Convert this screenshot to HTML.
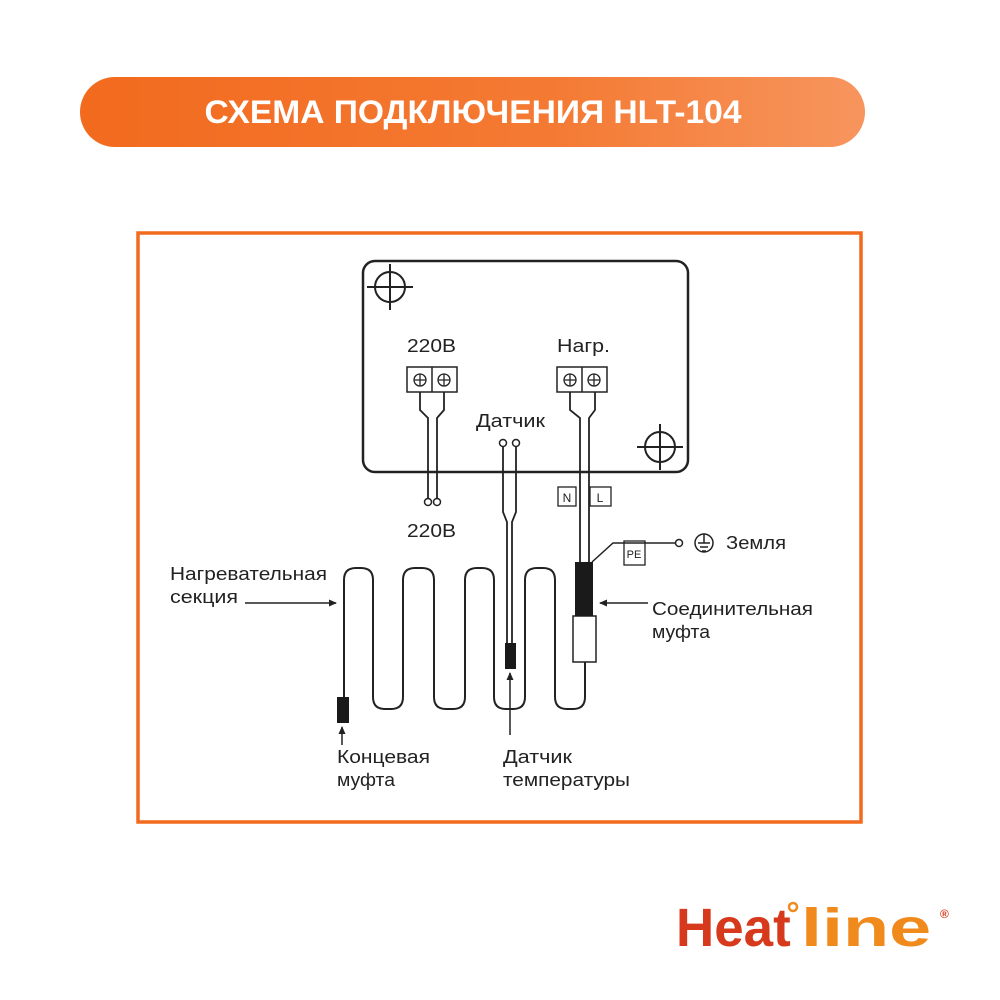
<!DOCTYPE html>
<html><head><meta charset="utf-8"><style>
html,body{margin:0;padding:0;background:#fff;width:1000px;height:1000px;overflow:hidden;}
svg{display:block;}
text{font-family:"Liberation Sans","DejaVu Sans",sans-serif;}
</style></head><body>
<svg width="1000" height="1000" viewBox="0 0 1000 1000" xmlns="http://www.w3.org/2000/svg">
<defs>
<linearGradient id="g" x1="0" x2="1" y1="0" y2="0">
<stop offset="0" stop-color="#f26a1e"/><stop offset="0.6" stop-color="#f47a33"/><stop offset="1" stop-color="#f7955e"/>
</linearGradient>
<marker id="ah" markerWidth="8" markerHeight="8" refX="7" refY="4" orient="auto" markerUnits="userSpaceOnUse">
<path d="M0,0.5 L8,4 L0,7.5 z" fill="#222"/></marker>
</defs>
<rect width="1000" height="1000" fill="#fff"/>
<rect x="80" y="77" width="785" height="70" rx="35" fill="url(#g)"/>
<text x="473" y="123" text-anchor="middle" font-size="32" font-weight="bold" fill="#fff" textLength="537" lengthAdjust="spacingAndGlyphs">СХЕМА ПОДКЛЮЧЕНИЯ HLT-104</text>
<rect x="138" y="233" width="723" height="589" fill="#fff" stroke="#f26a1e" stroke-width="3.5"/>
<g fill="none" stroke="#222" stroke-width="2">
<rect x="363" y="261" width="325" height="211" rx="12" stroke-width="2.5"/>
<circle cx="390" cy="287" r="15"/><path d="M367,287H413M390,264V310"/>
<circle cx="660" cy="447" r="15"/><path d="M637,447H683M660,424V470"/>
<rect x="407" y="367" width="50" height="25" stroke-width="1.5"/><path d="M432,367V392" stroke-width="1.5"/>
<rect x="557" y="367" width="50" height="25" stroke-width="1.5"/><path d="M582,367V392" stroke-width="1.5"/>
<g stroke-width="1.3">
<circle cx="420" cy="380" r="6"/><path d="M414,380H426M420,374V386"/>
<circle cx="444" cy="380" r="6"/><path d="M438,380H450M444,374V386"/>
<circle cx="570" cy="380" r="6"/><path d="M564,380H576M570,374V386"/>
<circle cx="594" cy="380" r="6"/><path d="M588,380H600M594,374V386"/>
</g>
<path d="M420,392V410L428,418V498M444,392V410L437,418V498" stroke-width="1.8"/>
<circle cx="428" cy="502" r="3.5" stroke-width="1.5"/><circle cx="437" cy="502" r="3.5" stroke-width="1.5"/>
<path d="M570,392V410L580,418V562M595,392V410L589,418V562" stroke-width="1.8"/>
<circle cx="503" cy="443" r="3.5" stroke-width="1.5"/><circle cx="516" cy="443" r="3.5" stroke-width="1.5"/>
<path d="M503,447V512L507,522V643M516,447V512L512,522V643" stroke-width="1.8"/>
<rect x="558" y="487" width="18" height="19" stroke-width="1.3"/>
<rect x="590" y="487" width="21" height="19" stroke-width="1.3"/>
<rect x="624" y="541" width="21" height="24" stroke-width="1.3"/>
<path d="M592,562L613,543H675" stroke-width="1.5"/>
<circle cx="679" cy="543" r="3.5" stroke-width="1.5"/>
<circle cx="704" cy="543" r="9" stroke-width="1.5"/>
<path d="M704,534V543M698,543H710M700,547H708M702,551H706" stroke-width="1.5"/>
<path d="M344,697V580Q344,568 356,568H361Q373,568 373,580V697Q373,709 385,709H391Q403,709 403,697V580Q403,568 415,568H422Q434,568 434,580V697Q434,709 446,709H453Q465,709 465,697V580Q465,568 477,568H482Q494,568 494,580V697Q494,709 506,709H513Q525,709 525,697V580Q525,568 537,568H543Q555,568 555,580V697Q555,709 567,709H573Q585,709 585,697V662" stroke-width="2"/>
<rect x="573" y="616" width="23" height="46" fill="#fff" stroke-width="1.5"/>
</g>
<rect x="575" y="562" width="18" height="54" fill="#1a1a1a"/>
<rect x="337" y="697" width="12" height="26" fill="#1a1a1a"/>
<rect x="505" y="643" width="11" height="26" fill="#1a1a1a"/>
<g stroke="#222" stroke-width="1.5" fill="none">
<path d="M245,603H336" marker-end="url(#ah)"/>
<path d="M648,603H600" marker-end="url(#ah)"/>
<path d="M342,745V727" marker-end="url(#ah)"/>
<path d="M510,735V673" marker-end="url(#ah)"/>
</g>
<g font-size="18" fill="#222">
<text x="407" y="352" textLength="49" lengthAdjust="spacingAndGlyphs">220В</text>
<text x="557" y="352" textLength="53" lengthAdjust="spacingAndGlyphs">Нагр.</text>
<text x="476" y="427" textLength="69" lengthAdjust="spacingAndGlyphs">Датчик</text>
<text x="407" y="537" textLength="49" lengthAdjust="spacingAndGlyphs">220В</text>
<text x="567" y="502" text-anchor="middle" font-size="12">N</text>
<text x="600" y="502" text-anchor="middle" font-size="12">L</text>
<text x="634" y="558" text-anchor="middle" font-size="11">PE</text>
<text x="726" y="549" textLength="60" lengthAdjust="spacingAndGlyphs">Земля</text>
<text x="170" y="580" textLength="157" lengthAdjust="spacingAndGlyphs">Нагревательная</text>
<text x="170" y="603" textLength="68" lengthAdjust="spacingAndGlyphs">секция</text>
<text x="652" y="615" textLength="161" lengthAdjust="spacingAndGlyphs">Соединительная</text>
<text x="652" y="638" textLength="58" lengthAdjust="spacingAndGlyphs">муфта</text>
<text x="337" y="763" textLength="93" lengthAdjust="spacingAndGlyphs">Концевая</text>
<text x="337" y="786" textLength="58" lengthAdjust="spacingAndGlyphs">муфта</text>
<text x="503" y="763" textLength="69" lengthAdjust="spacingAndGlyphs">Датчик</text>
<text x="503" y="786" textLength="127" lengthAdjust="spacingAndGlyphs">температуры</text>
</g>
<text transform="translate(676,946) scale(0.98,1)" font-size="54" font-weight="bold" fill="#d6391c">Heat</text>
<text transform="translate(801,946) scale(1.4,1)" font-size="54" font-weight="bold" fill="#f08a1c">line</text>
<circle cx="793" cy="907" r="4" fill="none" stroke="#f08a1c" stroke-width="2.5"/>
<text x="940" y="918" font-size="12" font-weight="bold" fill="#d6391c">®</text>
</svg>
</body></html>
